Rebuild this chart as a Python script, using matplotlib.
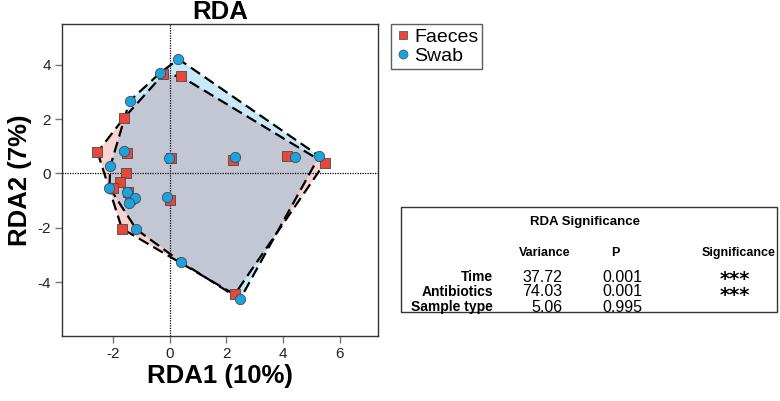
import matplotlib
matplotlib.use("Agg")
import matplotlib.pyplot as plt
from matplotlib.patches import Polygon, Rectangle
from matplotlib.lines import Line2D
import numpy as np

# ---- data ----
faeces_x = [-2.54, -1.62, -0.23, 0.39, -1.49, 0.05, 2.23, 4.15, 5.46,
            -1.55, -1.73, -1.99, -1.47, -1.38, 0.00, -1.68, 2.29]
faeces_y = [0.79, 2.03, 3.65, 3.58, 0.75, 0.56, 0.50, 0.63, 0.38,
            0.00, -0.31, -0.55, -0.68, -0.95, -0.96, -2.03, -4.46]
swab_x = [0.31, -0.35, -1.41, -1.60, -2.09, -0.02, 2.32, 4.42, 5.27,
          -2.12, -1.51, -1.22, -0.08, -1.43, -1.17, 0.39, 2.48]
swab_y = [4.22, 3.69, 2.67, 0.83, 0.26, 0.58, 0.59, 0.59, 0.64,
          -0.52, -0.70, -0.91, -0.87, -1.07, -2.06, -3.25, -4.64]

x_ticks = [-2, 0, 2, 4, 6]
y_ticks = [-4, -2, 0, 2, 4]

terms = ["Time", "Antibiotics", "Sample type"]
variance = ["37.72", "74.03", "5.06"]
p_values = ["0.001", "0.001", "0.995"]
signif = ["***", "***", ""]

RED = "#E8473A"
BLUE = "#1BA3E0"
EDGE = "#4a4a4a"

W, H = 780, 401

plt.rcParams.update({
    "font.family": ["Liberation Sans", "DejaVu Sans"],
    "axes.unicode_minus": False,
})


def fx(px):
    return px / W


def fy(py):
    return 1 - py / H


def convex_hull(xs, ys):
    """Andrew's monotone chain, returns hull vertices in order."""
    pts = sorted(set(zip(xs, ys)))

    def cross(o, a, b):
        return (a[0] - o[0]) * (b[1] - o[1]) - (a[1] - o[1]) * (b[0] - o[0])

    lower, upper = [], []
    for p in pts:
        while len(lower) >= 2 and cross(lower[-2], lower[-1], p) <= 0:
            lower.pop()
        lower.append(p)
    for p in reversed(pts):
        while len(upper) >= 2 and cross(upper[-2], upper[-1], p) <= 0:
            upper.pop()
        upper.append(p)
    return np.array(lower[:-1] + upper[:-1])


fig = plt.figure(figsize=(W / 100, H / 100), dpi=100)
ax = fig.add_axes([fx(62), fy(336), fx(378) - fx(62), fy(24) - fy(336)])

# hull fills then outlines
for xs, ys, col in [(faeces_x, faeces_y, RED), (swab_x, swab_y, BLUE)]:
    hull = convex_hull(xs, ys)
    ax.add_patch(Polygon(hull, closed=True, facecolor=col, alpha=0.24,
                         edgecolor="none", zorder=1))
for xs, ys in [(faeces_x, faeces_y), (swab_x, swab_y)]:
    hull = convex_hull(xs, ys)
    closed = np.vstack([hull, hull[:1]])
    ax.plot(closed[:, 0], closed[:, 1], color="black", lw=1.6,
            ls=(0, (5, 2.5)), zorder=2)

ax.axhline(0, color="black", lw=0.9, ls=(0, (1, 1)), zorder=1.5)
ax.axvline(0, color="black", lw=0.9, ls=(0, (1, 1)), zorder=1.5)

ax.scatter(faeces_x, faeces_y, marker="s", s=50, color=RED,
           edgecolors=EDGE, linewidths=0.6, zorder=3)
ax.scatter(swab_x, swab_y, marker="o", s=55, color=BLUE,
           edgecolors=EDGE, linewidths=0.6, zorder=3)

ax.set_xlim(-3.79, 7.34)
ax.set_ylim(-5.99, 5.51)
ax.set_xticks(x_ticks)
ax.set_yticks(y_ticks)
ax.tick_params(axis="both", direction="out", length=5, width=1,
               color="#777777", labelsize=11, labelcolor="#222222", pad=3)
for spine in ax.spines.values():
    spine.set_linewidth(1.0)
    spine.set_color("#333333")

ax.set_title("RDA", fontsize=18.5, fontweight="bold", pad=2)
ax.set_xlabel("RDA1 (10%)", fontsize=18.5, fontweight="bold", labelpad=2)
ax.set_ylabel("RDA2 (7%)", fontsize=18.5, fontweight="bold", labelpad=4)

# legend
handles = [
    Line2D([], [], marker="s", ls="none", markersize=6, color=RED,
           markeredgecolor=EDGE, markeredgewidth=0.5, label="Faeces"),
    Line2D([], [], marker="o", ls="none", markersize=6.5, color=BLUE,
           markeredgecolor=EDGE, markeredgewidth=0.5, label="Swab"),
]
leg = fig.legend(handles=handles, loc="upper left",
                 bbox_to_anchor=(fx(391), fy(24)), fontsize=14,
                 frameon=True, fancybox=False, borderpad=0.2,
                 handletextpad=0.2, handlelength=0.8, labelspacing=0.1,
                 borderaxespad=0)
leg.get_frame().set_edgecolor("#333333")
leg.get_frame().set_linewidth(1.0)

# significance table
fig.add_artist(Rectangle((fx(401), fy(312)), fx(777) - fx(401),
                         fy(207) - fy(312), transform=fig.transFigure,
                         facecolor="white", edgecolor="#333333", lw=1.0))
fig.text(fx(585), fy(222), "RDA Significance", fontsize=9.5,
         fontweight="bold", ha="center", va="center")
header_y = fy(253)
fig.text(fx(545), header_y, "Variance", fontsize=9, fontweight="bold",
         ha="center", va="center")
fig.text(fx(615), header_y, "P", fontsize=9, fontweight="bold",
         ha="center", va="center")
fig.text(fx(739), header_y, "Significance", fontsize=9, fontweight="bold",
         ha="center", va="center")
row_y = [277, 292, 307]
for term, var, p, y in zip(terms, variance, p_values, row_y):
    fig.text(fx(493), fy(y), term, fontsize=10, fontweight="bold",
             ha="right", va="center")
    fig.text(fx(562), fy(y), var, fontsize=11.5, ha="right", va="center")
    fig.text(fx(622), fy(y), p, fontsize=11.5, ha="center", va="center")

# stars as one multi-line text so the rows do not collide
stars = "\n".join(s for s in signif if s)
fig.text(fx(735), fy(287.5), stars, fontsize=14, fontweight="bold",
         family="DejaVu Sans", ha="center", va="center", linespacing=0.8)

fig.savefig("out.png", dpi=100)
